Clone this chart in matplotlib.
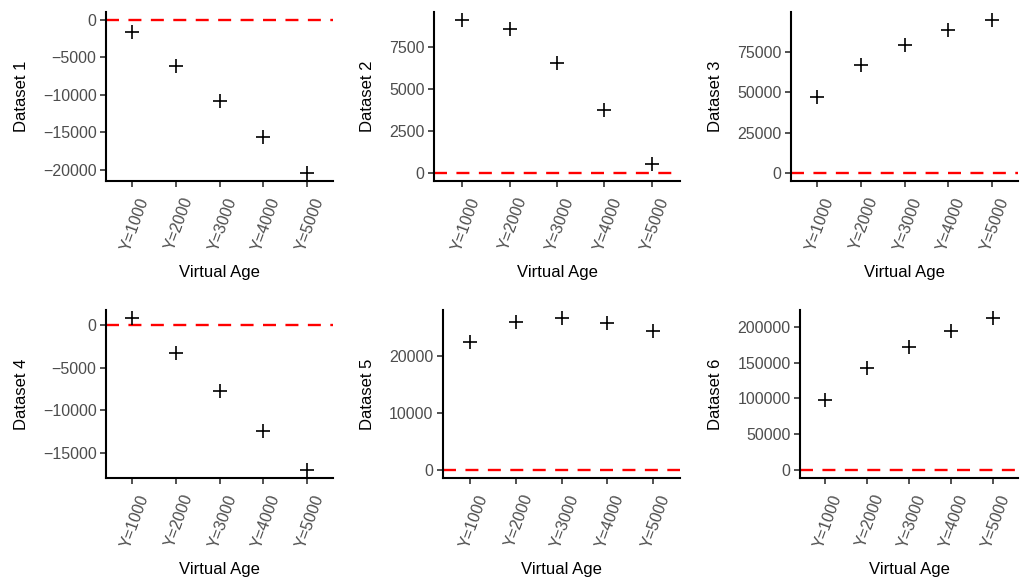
import matplotlib
matplotlib.use("Agg")
import matplotlib.pyplot as plt
from matplotlib.ticker import MultipleLocator
import matplotlib.transforms as mtransforms
import numpy as np

plt.rcParams['font.family'] = ['Liberation Sans', 'DejaVu Sans']

categories = ["Y=1000", "Y=2000", "Y=3000", "Y=4000", "Y=5000"]
dataset1 = [-1700, -6200, -10900, -15700, -20500]
dataset2 = [9150, 8590, 6570, 3780, 535]
dataset3 = [47300, 66600, 79300, 88300, 94900]
dataset4 = [850, -3290, -7730, -12370, -17010]
dataset5 = [22300, 25900, 26600, 25700, 24200]
dataset6 = [97700, 141800, 171100, 194100, 212400]
series = [dataset1, dataset2, dataset3, dataset4, dataset5, dataset6]
names = ["Dataset 1", "Dataset 2", "Dataset 3", "Dataset 4", "Dataset 5", "Dataset 6"]
steps = [5000, 2500, 25000, 5000, 10000, 50000]
xlabel = "Virtual Age"

W, H = 1024, 583
# panel boxes in pixels: left, right, top, bottom
boxes = [(106, 333, 12, 181), (434, 680, 12, 181), (791, 1018, 12, 181),
         (106, 333, 310, 478), (443, 680, 310, 478), (800, 1018, 310, 478)]

fig = plt.figure(figsize=(W / 100, H / 100), dpi=100)
for vals, name, step, (l, r, t, b) in zip(series, names, steps, boxes):
    ax = fig.add_axes([l / W, 1 - b / H, (r - l) / W, (b - t) / H])
    x = np.arange(len(categories))
    ax.axhline(0, color='#FF0000', lw=1.7, linestyle=(0, (5.5, 4.0)), zorder=1)
    ax.plot(x, vals, linestyle='none', marker='+', color='black', ms=10, mew=1.2, zorder=3)
    lo = min(min(vals), 0)
    hi = max(max(vals), 0)
    pad = 0.05 * (hi - lo)
    ax.set_ylim(lo - pad, hi + pad)
    ax.set_xlim(-0.6, len(categories) - 0.4)
    ax.yaxis.set_major_locator(MultipleLocator(step))
    ax.set_xticks(x)
    ax.set_xticklabels(categories, rotation=70, ha='right', va='top', rotation_mode='anchor')
    for s in ['top', 'right']:
        ax.spines[s].set_visible(False)
    for s in ['left', 'bottom']:
        ax.spines[s].set_linewidth(1.5)
        ax.spines[s].set_color('black')
    ax.tick_params(axis='both', length=4.3, width=1.2, color='#333333', labelcolor='#4D4D4D',
                   labelsize=11.5, pad=2.5)
    ax.tick_params(axis='x', pad=6)
    offset = mtransforms.ScaledTranslation(4 / 72, 0, fig.dpi_scale_trans)
    for lab in ax.get_xticklabels():
        lab.set_transform(lab.get_transform() + offset)
    ax.set_ylabel(name, fontsize=12, color='black', labelpad=10)
    ax.set_xlabel(xlabel, fontsize=12, color='black', labelpad=8.5)

fig.savefig("out.png", dpi=100)
